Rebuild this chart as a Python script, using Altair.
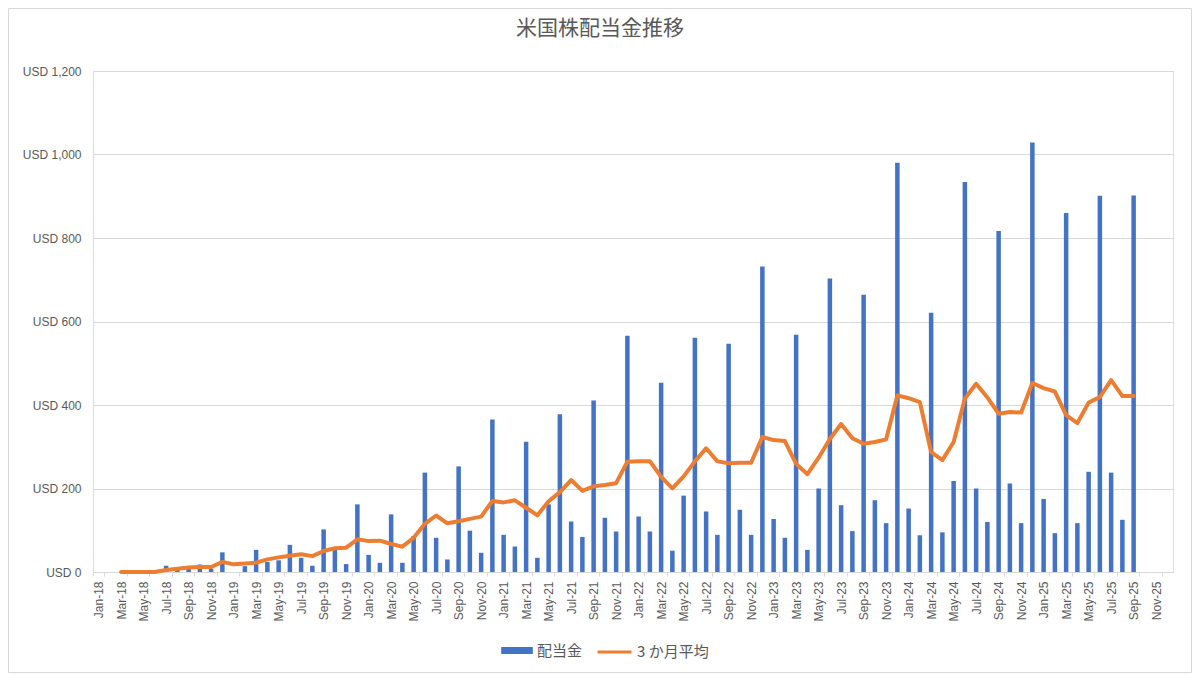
import altair as alt
import pandas as pd

# ---------------- data ----------------
MONTH_ABBR = ["Jan", "Feb", "Mar", "Apr", "May", "Jun",
              "Jul", "Aug", "Sep", "Oct", "Nov", "Dec"]
YEARS = [18, 19, 20, 21, 22, 23, 24, 25]
months = [f"{m}-{y:02d}" for y in YEARS for m in MONTH_ABBR]   # Jan-18 .. Dec-25
tick_labels = months[::2]                                        # Jan-18, Mar-18, ... Nov-25

# monthly dividends (USD), Jan-18 .. Sep-25
dividend = [
    0, 0, 0, 0, 0, 0, 15, 8, 10, 18, 8, 47,               # 2018
    0, 14, 53, 24, 28, 65, 34, 15, 102, 54, 19, 162,      # 2019
    41, 22, 138, 22, 86, 238, 82, 30, 253, 99, 46, 365,   # 2020
    89, 61, 312, 34, 162, 378, 121, 84, 411, 130, 97, 566,  # 2021
    133, 97, 453, 51, 183, 561, 145, 89, 547, 149, 89, 732,  # 2022
    127, 82, 568, 53, 200, 703, 160, 98, 664, 172, 117, 980,  # 2023
    152, 88, 621, 95, 218, 934, 200, 120, 817, 212, 117, 1029,  # 2024
    175, 93, 860, 117, 240, 901, 238, 125, 902,           # 2025
]

# 3-month average line (USD), Mar-18 .. Sep-25
avg3 = [
    0, 0, 0, 0, 5, 7.7, 11, 12, 12, 24.3,                            # 2018 (Mar-Dec)
    18.3, 20.3, 22.3, 30.3, 35, 39, 42.3, 38, 50.3, 57, 58.3, 78.3,  # 2019
    74, 75, 67, 60.7, 82, 115.3, 135.3, 116.7, 121.7, 127.3, 132.7, 170,  # 2020
    166.7, 171.7, 154, 135.7, 169.3, 191.3, 220.3, 194.3, 205.3, 208.3, 212.7, 264.3,  # 2021
    265.3, 265.3, 227.7, 200.3, 229, 265, 296.3, 265, 260.3, 261.7, 261.7, 323.3,  # 2022
    316, 313.7, 259, 234.3, 273.7, 318.7, 354.3, 320.3, 307.3, 311.3, 317.7, 423,  # 2023
    416.3, 406.7, 287, 268, 311.3, 415.7, 450.7, 418, 379, 383, 382, 452.7,  # 2024
    440.3, 432.3, 376, 356.7, 405.7, 419.3, 459.7, 421.3, 421.7,  # 2025
]

SERIES_BAR = "配当金"
SERIES_LINE = "3 か月平均"
y_ticks = [0, 200, 400, 600, 800, 1000, 1200]

bar_df = pd.DataFrame({"month": months[:len(dividend)], "value": dividend, "series": SERIES_BAR})
line_df = pd.DataFrame({"month": months[2:2 + len(avg3)], "value": avg3, "series": SERIES_LINE})

# ---------------- style ----------------
BLUE = "#4472C4"
ORANGE = "#ED7D31"
GRID = "#D9D9D9"
TEXT = "#595959"
LATIN = "Liberation Sans"
CJK = "Noto Sans CJK JP"

x_enc = alt.X(
    "month:O",
    sort=months,
    scale=alt.Scale(domain=months, paddingInner=0, paddingOuter=0),
    axis=alt.Axis(
        title=None,
        values=tick_labels,
        labelAngle=270,
        labelFont=LATIN,
        labelFontSize=12,
        labelColor=TEXT,
        labelPadding=5,
        tickSize=4,
        tickColor=GRID,
        domainColor=GRID,
        tickBand="extent",
        grid=False,
        labelOverlap=False,
    ),
)

y_enc = alt.Y(
    "value:Q",
    scale=alt.Scale(domain=[0, 1200], nice=False),
    axis=alt.Axis(
        title=None,
        values=y_ticks,
        labelExpr="'USD ' + format(datum.value, ',')",
        labelFont=LATIN,
        labelFontSize=12,
        labelColor=TEXT,
        labelPadding=12,
        domain=False,
        ticks=False,
        grid=True,
        gridColor=GRID,
        gridWidth=1,
    ),
)

bars = alt.Chart(bar_df).mark_bar(size=4.5).encode(
    x=x_enc,
    y=y_enc,
    color=alt.Color(
        "series:N",
        scale=alt.Scale(domain=[SERIES_BAR], range=[BLUE]),
        legend=alt.Legend(
            title=None,
            orient="none",
            legendX=408,
            legendY=563.5,
            padding=0,
            symbolType="M-1,-0.22H1V0.22H-1Z",
            symbolSize=1000,
            symbolStrokeWidth=0,
            labelFont=CJK,
            labelFontSize=15,
            labelColor=TEXT,
            labelOffset=4,
        ),
    ),
)

line = alt.Chart(line_df).mark_line(strokeWidth=4, strokeJoin="round", strokeCap="round").encode(
    x=alt.X("month:O", sort=months),
    y=alt.Y("value:Q"),
    stroke=alt.Stroke(
        "series:N",
        scale=alt.Scale(domain=[SERIES_LINE], range=[ORANGE]),
        legend=alt.Legend(
            title=None,
            orient="none",
            legendX=503,
            legendY=562.5,
            padding=0,
            symbolType="stroke",
            symbolSize=1156,
            symbolStrokeWidth=3,
            labelFont=CJK,
            labelFontSize=15,
            labelColor=TEXT,
            labelOffset=4,
        ),
    ),
)

frame = alt.Chart(alt.Data(values=[{"k": 1}])).mark_rect(
    filled=False, stroke=GRID, strokeWidth=1
).encode(
    x=alt.value(-84.5), x2=alt.value(1098.5),
    y=alt.value(-62.5), y2=alt.value(601.5),
)

chart = alt.layer(bars, line, frame).properties(
    width=1080,
    height=501,
    autosize=alt.AutoSizeParams(type="none"),
    padding={"left": 85, "top": 63, "right": 19, "bottom": 103},
    title=alt.Title(
        "米国株配当金推移",
        font=CJK,
        fontSize=21,
        fontWeight="normal",
        color=TEXT,
        anchor="middle",
        baseline="alphabetic",
        offset=-48,
        dx=-33,
    ),
).configure_view(stroke=None).configure(background="white")

chart.save("out.html", embed_options={"renderer": "svg", "actions": False})
